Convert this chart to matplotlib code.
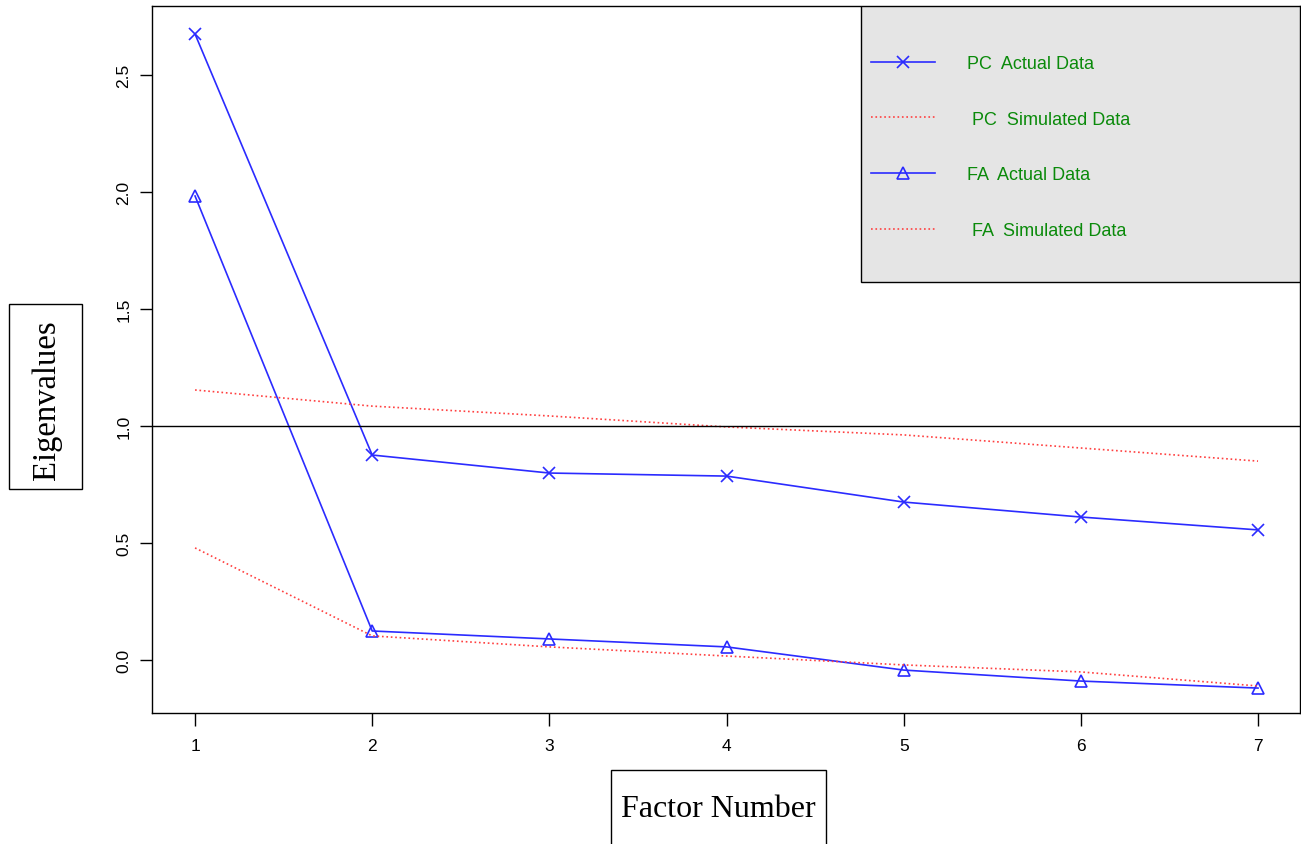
import numpy as np
import matplotlib.pyplot as plt
from matplotlib.patches import Rectangle

# factor numbers and eigenvalues
factors = [1, 2, 3, 4, 5, 6, 7]
pc_actual = [2.675, 0.876, 0.799, 0.786, 0.675, 0.611, 0.556]
pc_simulated = [1.154, 1.085, 1.043, 0.996, 0.962, 0.906, 0.850]
fa_actual = [1.983, 0.124, 0.090, 0.056, -0.043, -0.090, -0.120]
fa_simulated = [0.479, 0.103, 0.056, 0.017, -0.021, -0.051, -0.111]
y_ticks = [0.0, 0.5, 1.0, 1.5, 2.0, 2.5]
labels = ["PC  Actual Data", " PC  Simulated Data", "FA  Actual Data", " FA  Simulated Data"]

plt.rcParams['font.family'] = ['Liberation Sans', 'DejaVu Sans']

W, H = 1301, 845
fig = plt.figure(figsize=(W / 100, H / 100), dpi=100)
ax = fig.add_axes([152 / W, 131 / H, 1148 / W, 707 / H])

blue = '#2b2bff'
red = '#ff4040'

l1, = ax.plot(factors, pc_actual, color=blue, lw=1.2, marker='x', ms=8, mew=1.2)
l2, = ax.plot(factors, pc_simulated, color=red, lw=1.2, ls=':')
l3, = ax.plot(factors, fa_actual, color=blue, lw=1.2, marker='^', ms=8,
              mfc='none', mew=1.2)
l4, = ax.plot(factors, fa_simulated, color=red, lw=1.2, ls=':')
ax.axhline(1.0, color='black', lw=1)

ax.set_xlim(0.757, 7.237)
ax.set_ylim(-0.2265, 2.795)
ax.set_xticks(factors)
ax.set_yticks(y_ticks)
ax.set_yticklabels([f"{v:.1f}" for v in y_ticks], rotation=90, va='center')
ax.tick_params(axis='both', labelsize=12.5, length=9, width=1, pad=6)
ax.tick_params(axis='x', pad=9)
for s in ax.spines.values():
    s.set_linewidth(1)

# grey legend box in the top right corner
ax.add_patch(Rectangle((0.618, 0.61), 0.382, 0.39, transform=ax.transAxes,
                       facecolor='#e5e5e5', edgecolor='black', lw=1, zorder=3))
leg = ax.legend([l1, l2, l3, l4], labels, loc='upper left',
                bbox_to_anchor=(871 / W, 1 - 56 / H),
                bbox_transform=fig.transFigure, frameon=False, fontsize=13,
                handlelength=3.55, handletextpad=1.75, labelspacing=2.14,
                borderpad=0, borderaxespad=0)
leg.set_zorder(4)
for t in leg.get_texts():
    t.set_color('#0a8a0a')

# boxed axis titles (the bottom box runs off the figure edge)
fig.patches.append(Rectangle((9 / W, 1 - 490 / H), 73 / W, 185 / H,
                             transform=fig.transFigure, fill=False,
                             edgecolor='black', lw=1))
fig.patches.append(Rectangle((611 / W, -10 / H), 215 / W, 84 / H,
                             transform=fig.transFigure, fill=False,
                             edgecolor='black', lw=1))
fig.text(47 / W, 1 - 400 / H, "Eigenvalues", rotation=90, ha='center',
         va='center', fontsize=23.5, family='Liberation Serif')
fig.text(718 / W, 1 - 810 / H, "Factor Number", ha='center', va='center',
         fontsize=23, family='Liberation Serif')

plt.savefig("out.png")
